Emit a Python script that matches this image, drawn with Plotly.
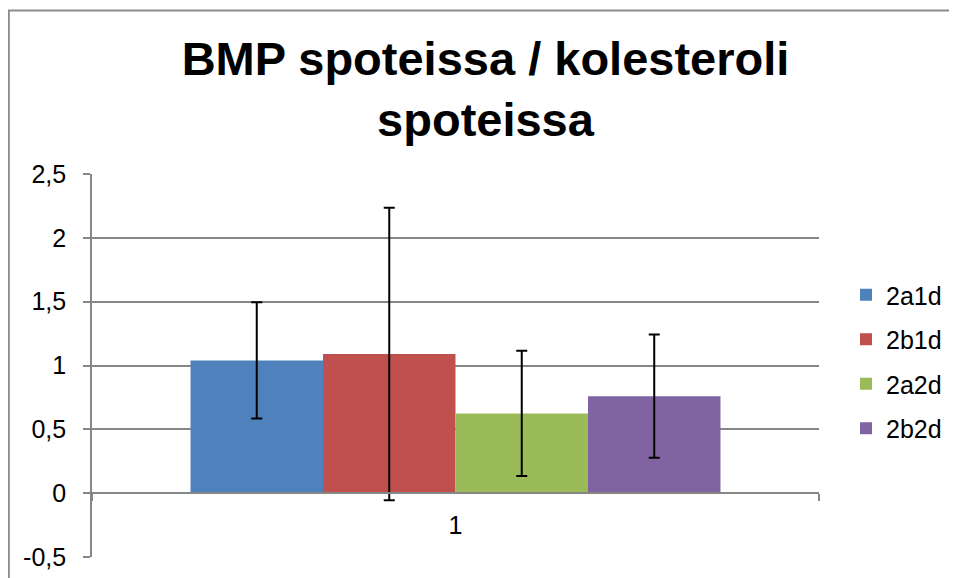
import plotly.graph_objects as go

categories = ["1"]
series_names = ["2a1d", "2b1d", "2a2d", "2b2d"]
series_values = [1.04, 1.09, 0.625, 0.76]
series_errors = [0.455, 1.145, 0.49, 0.483]
series_colors = ["#4F81BD", "#C0504D", "#9BBB59", "#8064A2"]
y_tick_vals = [-0.5, 0, 0.5, 1, 1.5, 2, 2.5]
y_tick_text = ["-0,5", "0", "0,5", "1", "1,5", "2", "2,5"]
title_text = "BMP spoteissa / kolesteroli<br>spoteissa"

# page has an 8px body margin, so the figure is shifted by (8, 8)
W, H = 949, 570
L, R, T, B = 84, 811, 166, 549  # plot area in figure px
ymin, ymax = y_tick_vals[0], y_tick_vals[-1]
FONT = "Arial, Liberation Sans, sans-serif"
GRID = "#868686"

fig = go.Figure()
for i, name in enumerate(series_names):
    fig.add_trace(go.Bar(
        x=categories, y=[series_values[i]], name=name,
        marker=dict(color=series_colors[i], line=dict(width=0)),
        error_y=dict(type="data", array=[series_errors[i]], visible=True,
                     color="black", thickness=2, width=5.5),
        legendgroup=name,
    ))

pw, ph = R - L, B - T
fig.add_shape(type="rect", xref="paper", yref="paper",
              x0=(0.8 - L) / pw, x1=(948 - L) / pw,
              y0=(B - 600) / ph, y1=(B - 2.5) / ph,
              line=dict(color="#8c8c8c", width=2), fillcolor="rgba(0,0,0,0)", layer="below")

fig.update_layout(
    width=W, height=H,
    margin=dict(l=L, r=W - R, t=T, b=H - B, autoexpand=False),
    paper_bgcolor="white", plot_bgcolor="white",
    barmode="group", bargap=0.271, bargroupgap=0,
    separators=", ",
    font=dict(family=FONT, color="black", size=25),
    title=dict(text=title_text, x=477.5 / W, xanchor="center", xref="container",
               y=1 - 67 / H, yanchor="top", yref="container",
               font=dict(family=FONT, size=47, color="black", weight="bold")),
    legend=dict(x=838 / W, xref="container", y=1 - 264 / H, yref="container",
                yanchor="top", xanchor="left", font=dict(size=25, color="black"),
                tracegroupgap=9, traceorder="grouped", bgcolor="rgba(0,0,0,0)"),
    showlegend=True,
)
fig.update_yaxes(range=[ymin, ymax], tickvals=y_tick_vals, ticktext=y_tick_text,
                 showgrid=True, gridcolor=GRID, gridwidth=1.6,
                 showline=True, linecolor=GRID, linewidth=1.6,
                 ticks="outside", ticklen=7, tickcolor=GRID, tickwidth=1.6,
                 zeroline=False, ticklabelstandoff=12,
                 tickfont=dict(size=25, color="black"))
fig.update_xaxes(type="category", anchor="free",
                 position=(0 - ymin) / (ymax - ymin),
                 showgrid=False, showline=True, linecolor=GRID, linewidth=1.6,
                 ticks="outside", ticklen=7, tickcolor=GRID, tickwidth=1.6,
                 tickson="boundaries", ticklabelstandoff=10,
                 tickfont=dict(size=25, color="black"))

fig.write_html("out.html")
